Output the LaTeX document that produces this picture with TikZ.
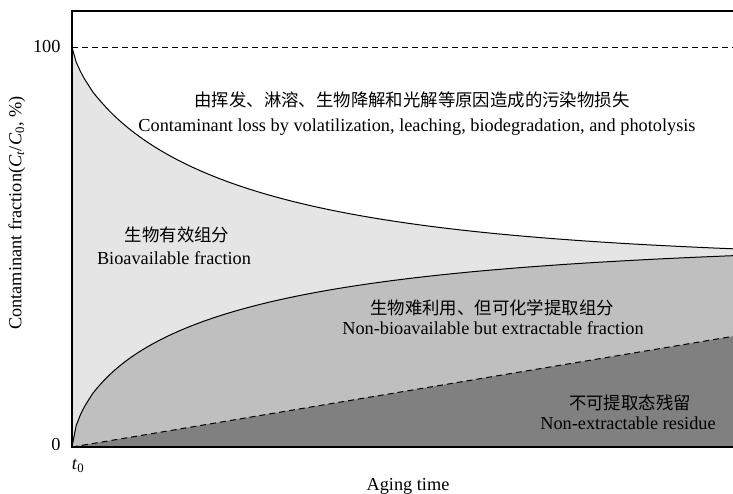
\documentclass[tikz,border=0pt]{standalone}
\usepackage{fontspec}
\setmainfont{Liberation Serif}
\newfontfamily\cjkfont{Noto Sans CJK SC}
\usepackage{tikz}

\definecolor{lossgray}{gray}{0.90}
\definecolor{extrgray}{gray}{0.75}
\definecolor{resgray}{gray}{0.50}

\tikzset{
    entext/.style={font=\fontsize{18.3}{21}\selectfont},
    cntext/.style={font=\cjkfont\fontsize{17.4}{20}\selectfont},
    curve/.style={line width=1pt, black},
    dashline/.style={line width=1pt, dash pattern=on 6pt off 4pt},
    fracplot/.style={domain=0.01:663, samples=160},
}

\begin{document}
\begin{tikzpicture}[x=1pt, y=1pt]
    \useasboundingbox (0, 0) rectangle (733, 493);

    % Fill the three fractions
    \fill[lossgray] (72, 446) -- plot[fracplot] ({72+\x}, {446 - 215*(1-exp(-(\x/159)^0.72))}) -- (735, 46) -- (72, 46) -- cycle;
    \fill[extrgray] (72, 46) -- plot[fracplot] ({72+\x}, {46 + 208*(1-exp(-(\x/148.6)^0.62))}) -- (735, 46) -- cycle;
    \fill[resgray] (72, 46) -- (735, 157) -- (735, 46) -- cycle;

    % Boundary curves
    \draw[curve] (72, 446) -- plot[fracplot] ({72+\x}, {446 - 215*(1-exp(-(\x/159)^0.72))});
    \draw[curve] (72, 46) -- plot[fracplot] ({72+\x}, {46 + 208*(1-exp(-(\x/148.6)^0.62))});
    \draw[dashline] (72, 46) -- (735, 157);

    % 100 % level
    \draw[dashline, line width=0.9pt] (72, 446) -- (735, 446);

    % Frame (open on the right)
    \draw[line width=1.3pt] (735, 482) -- (72, 482) -- (72, 46) -- (735, 46);

    % Tick labels
    \node[entext, anchor=east] (top) at (64, 446) {100};
    \node[entext, anchor=east] (zero) at (64, 48) {0};
    \node[entext] (tzero) at (78, 27) {\textit{t}\textsubscript{0}};

    % Axis titles
    \node[entext, anchor=base] (xlabel) at (408, 3) {Aging time};
    \node[entext, rotate=90] (ylabel) at (17, 280)
        {Contaminant fraction(\textit{C}\textsubscript{\textit{t}}/\textit{C}\textsubscript{0}, \%)};

    % Region labels
    \node[cntext] (losscn) at (412, 393) {由挥发、淋溶、生物降解和光解等原因造成的污染物损失};
    \node[entext] (lossen) at (417, 366) {Contaminant loss by volatilization, leaching, biodegradation, and photolysis};

    \node[cntext] (biocn) at (177, 258) {生物有效组分};
    \node[entext] (bioen) at (174, 235) {Bioavailable fraction};

    \node[cntext] (extrcn) at (492, 185) {生物难利用、但可化学提取组分};
    \node[entext] (extren) at (493, 165) {Non-bioavailable but extractable fraction};

    \node[cntext] (rescn) at (630, 90) {不可提取态残留};
    \node[entext] (resen) at (628, 70) {Non-extractable residue};

\end{tikzpicture}
\end{document}
